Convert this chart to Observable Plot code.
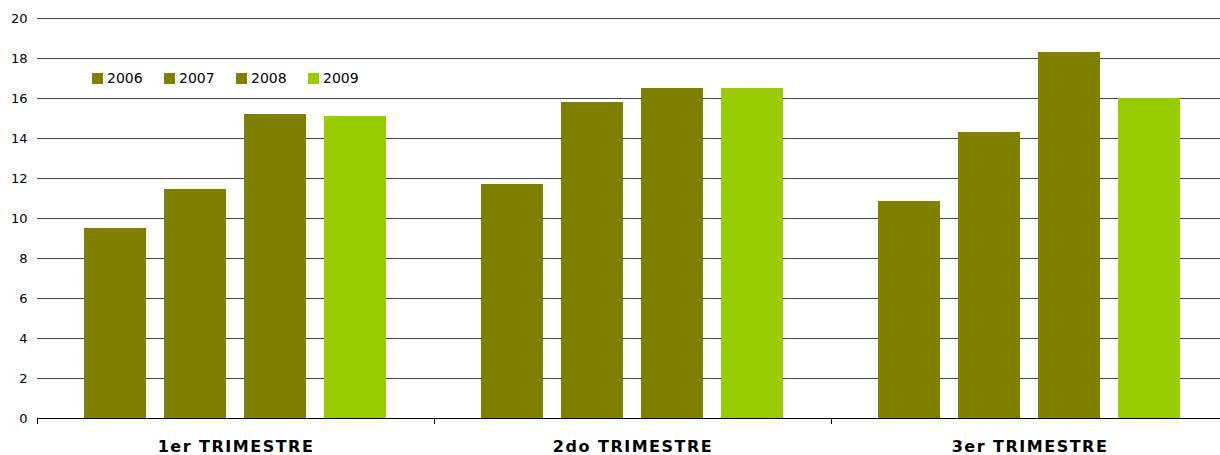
<!DOCTYPE html>
<html>
<head>
<meta charset="utf-8">
<script src="https://cdn.jsdelivr.net/npm/d3@7"></script>
<script src="https://cdn.jsdelivr.net/npm/@observablehq/plot@0.6"></script>
<style>
  html, body { margin: 0; padding: 0; background: #fff; overflow: hidden; }
  #wrap { position: relative; width: 1220px; height: 455px; overflow: hidden; }
  #wrap svg { display: block; max-width: none !important; }
  #legend { position: absolute; left: 92px; top: 70px; display: flex; font-family: "DejaVu Sans", Verdana, sans-serif; font-size: 14px; color: #000; }
  #legend .item { display: flex; align-items: center; width: 72px; }
  #legend .sw { width: 11px; height: 11px; margin-right: 4px; }
  g.fxlab text { letter-spacing: 1.5px; }
</style>
</head>
<body>
<div id="wrap"><div id="legend"></div></div>
<script>
const trimestres = ["1er TRIMESTRE", "2do TRIMESTRE", "3er TRIMESTRE"];
const years = ["2006", "2007", "2008", "2009"];
const v2006 = [9.5, 11.7, 10.85];
const v2007 = [11.45, 15.8, 14.3];
const v2008 = [15.2, 16.5, 18.3];
const v2009 = [15.1, 16.5, 16.0];
const yTicks = [0, 2, 4, 6, 8, 10, 12, 14, 16, 18, 20];
const colors = ["#808000", "#808000", "#808000", "#99CC00"];

const series = [v2006, v2007, v2008, v2009];
const data = trimestres.flatMap((t, i) => years.map((y, j) => ({ t, y, v: series[j][i] })));

const chart = Plot.plot({
  width: 1228,
  height: 455,
  marginLeft: 37,
  marginRight: 0,
  marginTop: 18,
  marginBottom: 37,
  style: { fontFamily: "DejaVu Sans, Verdana, sans-serif", fontSize: "13px", color: "#000", background: "#fff" },
  fx: { domain: trimestres, padding: 0, label: null },
  x: { domain: years, paddingInner: 0.219, paddingOuter: 0.57, axis: null },
  y: { domain: [0, 20], label: null },
  color: { domain: years, range: colors },
  marks: [
    Plot.gridY(yTicks, { stroke: "#444", strokeOpacity: 1, strokeWidth: 1 }),
    Plot.barY(data, { fx: "t", x: "y", y: "v", fill: "y" }),
    Plot.ruleY([0], { stroke: "#000", strokeWidth: 1 }),
    Plot.frame({ anchor: "left", stroke: "#000", insetTop: 400, insetBottom: -5 }),
    Plot.axisY(yTicks, { tickSize: 0, tickPadding: 10, label: null, fontSize: 13 }),
    Plot.axisFx({ anchor: "bottom", tickSize: 0, tickPadding: 22, label: null, fontSize: 16, fontWeight: "bold", className: "fxlab" })
  ]
});
document.getElementById("wrap").prepend(chart);

const legend = document.getElementById("legend");
years.forEach((y, i) => {
  const item = document.createElement("div");
  item.className = "item";
  const sw = document.createElement("span");
  sw.className = "sw";
  sw.style.background = colors[i];
  const label = document.createElement("span");
  label.textContent = y;
  item.append(sw, label);
  legend.append(item);
});
</script>
</body>
</html>
